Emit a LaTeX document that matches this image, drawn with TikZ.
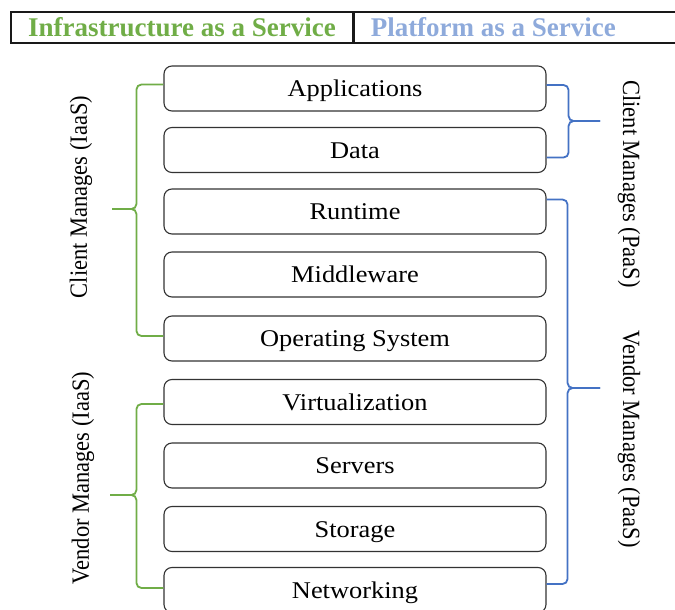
\documentclass[tikz,border=0pt]{standalone}
\usepackage{fontspec}
\setmainfont{Liberation Serif}[FakeStretch=1.1]
\newfontfamily\plainserif{Liberation Serif}
\usetikzlibrary{calc}
\definecolor{iaasgreen}{HTML}{70AD47}
\definecolor{paastext}{HTML}{8EAADB}
\definecolor{paasline}{HTML}{4472C4}
\begin{document}
\begin{tikzpicture}[x=1pt,y=-1pt,
  layer/.style={draw=black!80,line width=1.1pt,rounded corners=8pt,
    minimum width=382pt,minimum height=45pt,inner sep=0pt,
    text height=16pt,text depth=0pt,
    font=\fontsize{24}{28}\selectfont},
  cell/.style={draw=black!90,line width=1.1pt,minimum height=31pt,inner sep=0pt},
  head/.style={font=\plainserif\bfseries\fontsize{27}{30}\selectfont,inner sep=0pt,
    text height=18pt,text depth=0pt},
  gbrace/.style={draw=iaasgreen,line width=1.8pt,rounded corners=5pt},
  bbrace/.style={draw=paasline,line width=1.8pt,rounded corners=5pt},
  side/.style={font=\plainserif\fontsize{22.5}{26}\selectfont,inner sep=0pt}]
\path[use as bounding box] (0,0) rectangle (675,610);
\clip (0,0) rectangle (675,610);

% header table
\node[cell,minimum width=342pt] (hi) at (182,27.5) {};
\node[cell,minimum width=327pt,anchor=west] (hp) at (hi.east) {};
\node[head,text=iaasgreen] (hit) at (hi) {Infrastructure as a Service};
\node[head,text=paastext,anchor=west] (hpt) at ([xshift=17pt]hp.west) {Platform as a Service};

% the stack of layers
\node[layer] (b1) at (355,88.5) {Applications};
\node[layer] (b2) at (355,150) {Data};
\node[layer] (b3) at (355,211.5) {Runtime};
\node[layer] (b4) at (355,274.5) {Middleware};
\node[layer] (b5) at (355,338.5) {Operating System};
\node[layer] (b6) at (355,402) {Virtualization};
\node[layer] (b7) at (355,465.5) {Servers};
\node[layer] (b8) at (355,529) {Storage};
\node[layer] (b9) at (355,590) {Networking};

% IaaS braces (left)
\coordinate (tci) at (112,209);
\coordinate (tvi) at (110,495);
\draw[gbrace] ([yshift=4pt]b1.west) -- ++(-27,0) |- (tci);
\draw[gbrace] ([yshift=2.5pt]b5.west) -- ++(-27,0) |- (tci);
\draw[gbrace] ([yshift=-2pt]b6.west) -- ++(-27,0) |- (tvi);
\draw[gbrace] ([yshift=2pt]b9.west) -- ++(-27,0) |- (tvi);

% PaaS braces (right)
\coordinate (tcp) at (600,121);
\coordinate (tvp) at (600,388);
\draw[bbrace] ([yshift=3.5pt]b1.east) -- ++(22,0) |- (tcp);
\draw[bbrace] ([yshift=-7.5pt]b2.east) -- ++(22,0) |- (tcp);
\draw[bbrace] ([yshift=12pt]b3.east) -- ++(21,0) |- (tvp);
\draw[bbrace] ([yshift=6pt]b9.east) -- ++(21,0) |- (tvp);

% side labels
\node[side,rotate=90] (lci) at (81,197) {\scalebox{1}[1.1]{Client Manages (IaaS)}};
\node[side,rotate=90] (lvi) at (83,478) {\scalebox{1}[1.1]{Vendor Manages (IaaS)}};
\node[side,rotate=-90] (lcp) at (629,184) {\scalebox{1}[1.1]{Client Manages (PaaS)}};
\node[side,rotate=-90] (lvp) at (629,439) {\scalebox{1}[1.1]{Vendor Manages (PaaS)}};
\end{tikzpicture}
\end{document}
